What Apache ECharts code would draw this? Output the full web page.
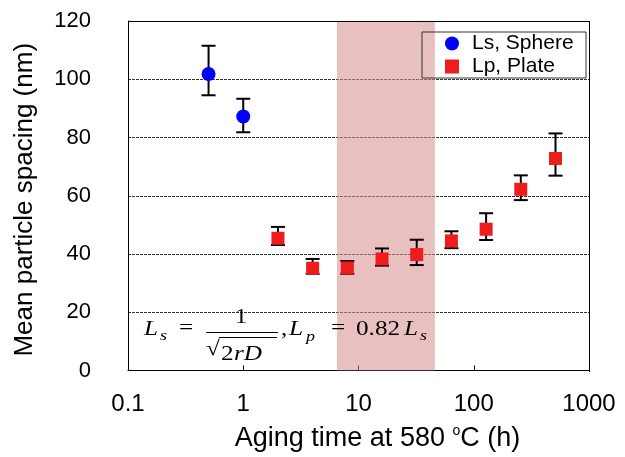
<!DOCTYPE html>
<html>
<head>
<meta charset="utf-8">
<script src="https://cdn.jsdelivr.net/npm/echarts@6/dist/echarts.min.js"></script>
<style>
html,body{margin:0;padding:0;background:#fff;}
#chart{width:625px;height:457px;}
</style>
</head>
<body>
<div id="chart"></div>
<script>
// ---- data ----
const lsTime = [0.5, 1];
const lsVal  = [101.8, 87.2];
const lsLow  = [94.5, 81.8];
const lsHigh = [111.5, 93.3];

const lpTime = [2, 4, 8, 16, 32, 64, 128, 256, 512];
const lpVal  = [45.4, 35.1, 35.2, 38.3, 39.8, 44.5, 48.5, 62.2, 72.8];
const lpLow  = [43.1, 33.2, 33.2, 36.0, 36.2, 42.0, 44.8, 58.5, 66.9];
const lpHigh = [49.3, 38.3, 37.6, 41.9, 44.9, 47.8, 54.0, 67.0, 81.4];

const shadeRange = [6.5, 46];
const xTicks = [0.1, 1, 10, 100, 1000];
const yTicks = [0, 20, 40, 60, 80, 100, 120];
const legendNames = ['Ls, Sphere', 'Lp, Plate'];

const FONT = '"Liberation Sans", Arial, sans-serif';
const SERIF = '"Liberation Serif", "Times New Roman", serif';

function errData(t, lo, hi) { return t.map((x, i) => [x, lo[i], hi[i]]); }
function errRender(params, api) {
  const x = api.value(0);
  const p1 = api.coord([x, api.value(1)]);
  const p2 = api.coord([x, api.value(2)]);
  const hw = 7;
  const st = { stroke: '#000', lineWidth: 2 };
  return {
    type: 'group',
    children: [
      { type: 'line', shape: { x1: p1[0], y1: p1[1], x2: p2[0], y2: p2[1] }, style: st },
      { type: 'line', shape: { x1: p1[0] - hw, y1: p1[1], x2: p1[0] + hw, y2: p1[1] }, style: st },
      { type: 'line', shape: { x1: p2[0] - hw, y1: p2[1], x2: p2[0] + hw, y2: p2[1] }, style: st }
    ]
  };
}

const chart = echarts.init(document.getElementById('chart'), null, { renderer: 'canvas' });

// formula pieces (annotation text)
function ft(text, x, y, size, italic, align) {
  return {
    type: 'text', x: x, y: y, scaleX: 1.2, z: 100,
    style: {
      text: text, fontSize: size, fontFamily: SERIF, fontStyle: italic ? 'italic' : 'normal',
      fill: '#000', align: align || 'left', verticalAlign: 'middle'
    }
  };
}
function fl(x1, y1, x2, y2) {
  return { type: 'line', z: 100, shape: { x1: x1, y1: y1, x2: x2, y2: y2 }, style: { stroke: '#000', lineWidth: 1 } };
}
const formula = [
  ft('L', 144, 329, 21, true),
  ft('s', 160, 336, 15, true),
  ft('=', 179, 328, 21, false),
  ft('1', 241, 317, 21, false, 'center'),
  fl(206, 332.5, 278, 332.5),
  ft('\u221A', 206, 349, 21, false),
  fl(219, 337.5, 277, 337.5),
  ft('2', 221, 354, 21, false),
  ft('rD', 234, 354, 21, true),
  ft(',', 281, 329, 21, false),
  ft('L', 289, 329, 21, true),
  ft('p', 306, 337, 15, true),
  ft('=', 331, 328, 21, false),
  ft('0.82', 356, 329, 21, false),
  ft('L', 404, 329, 21, true),
  ft('s', 420, 336, 15, true)
];

const option = {
  backgroundColor: '#fff',
  animation: false,
  grid: { left: 128, right: 36, top: 21, bottom: 85, show: false },
  xAxis: {
    type: 'log',
    logBase: 10,
    min: xTicks[0],
    max: xTicks[xTicks.length - 1],
    name: 'Aging time at 580 {sup|o}C (h)',
    nameLocation: 'middle',
    nameGap: 54,
    nameTextStyle: {
      fontFamily: FONT, fontSize: 27, color: '#000', padding: [0, 0, 0, 38],
      rich: { sup: { fontFamily: FONT, fontSize: 14, color: '#000', verticalAlign: 'top', padding: [0, 0, 14, 0] } }
    },
    axisLine: { show: true, onZero: false, lineStyle: { color: '#000', width: 1 } },
    axisTick: { show: true, inside: true, length: 5, lineStyle: { color: '#000' } },
    minorTick: { show: false },
    axisLabel: {
      fontFamily: FONT, fontSize: 24, color: '#000', margin: 22,
      formatter: v => String(+v.toPrecision(6))
    },
    splitLine: { show: false }
  },
  yAxis: {
    type: 'value',
    min: yTicks[0],
    max: yTicks[yTicks.length - 1],
    interval: 20,
    name: 'Mean particle spacing (nm)',
    nameLocation: 'middle',
    nameGap: 90,
    nameTextStyle: { fontFamily: FONT, fontSize: 26, color: '#000', padding: [0, 8, 0, 0] },
    axisLine: { show: true, lineStyle: { color: '#000', width: 1 } },
    axisTick: { show: false },
    axisLabel: { fontFamily: FONT, fontSize: 22, color: '#000', margin: 37 },
    splitLine: { show: true, lineStyle: { color: '#333', type: [3, 1], width: 1 } }
  },
  legend: {
    left: 445,
    top: 33,
    orient: 'vertical',
    itemWidth: 14,
    itemHeight: 14,
    itemGap: 2,
    data: [
      { name: legendNames[0], icon: 'circle' },
      { name: legendNames[1], icon: 'rect' }
    ],
    textStyle: { fontFamily: FONT, fontSize: 21, color: '#000', padding: [0, 0, 0, 8] },
    padding: 0
  },
  graphic: [
    { type: 'rect', shape: { x: 422, y: 32, width: 164, height: 46 }, style: { fill: 'rgba(0,0,0,0)', stroke: '#333', lineWidth: 1 }, z: 50 },
    { type: 'line', shape: { x1: 128, y1: 21.5, x2: 589, y2: 21.5 }, style: { stroke: '#000', lineWidth: 1 }, z: 50 },
    { type: 'line', shape: { x1: 589.5, y1: 21, x2: 589.5, y2: 372 }, style: { stroke: '#000', lineWidth: 1 }, z: 50 }
  ].concat(formula),
  series: [
    {
      name: 'shade',
      type: 'scatter',
      data: [],
      z: -1,
      silent: true,
      markArea: {
        silent: true,
        itemStyle: { color: 'rgba(214,140,140,0.55)' },
        data: [[{ xAxis: shadeRange[0] }, { xAxis: shadeRange[1] }]]
      }
    },
    {
      name: 'lsErr', type: 'custom', renderItem: errRender, data: errData(lsTime, lsLow, lsHigh), z: 3, silent: true
    },
    {
      name: 'lpErr', type: 'custom', renderItem: errRender, data: errData(lpTime, lpLow, lpHigh), z: 3, silent: true
    },
    {
      name: legendNames[0],
      type: 'scatter',
      symbol: 'circle',
      symbolSize: 14,
      itemStyle: { color: '#0000ff', opacity: 1 },
      data: lsTime.map((x, i) => [x, lsVal[i]]),
      z: 5
    },
    {
      name: legendNames[1],
      type: 'scatter',
      symbol: 'rect',
      symbolSize: 13,
      itemStyle: { color: '#ee1c1c', opacity: 1 },
      data: lpTime.map((x, i) => [x, lpVal[i]]),
      z: 5
    }
  ]
};
chart.setOption(option);
</script>
</body>
</html>
